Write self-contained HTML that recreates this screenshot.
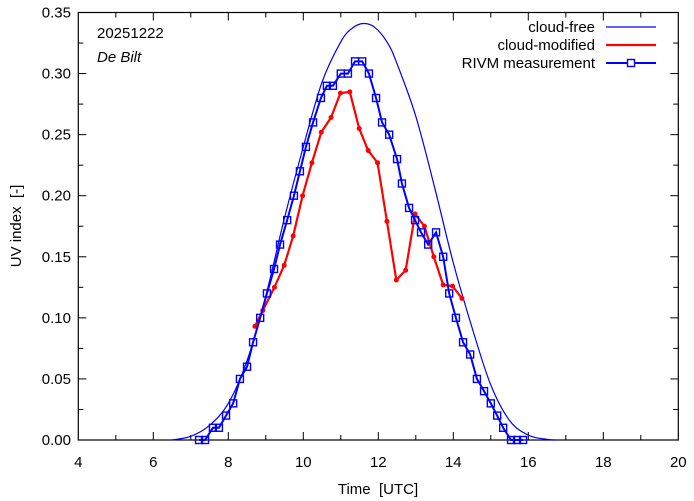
<!DOCTYPE html>
<html><head><meta charset="utf-8"><style>
html,body{margin:0;padding:0;background:#fff;}
svg{display:block;font-family:"Liberation Sans",sans-serif;}
</style></head><body>
<svg id="chart" width="694" height="501" viewBox="0 0 694 501"></svg>
<script>
const xTicks=[4,6,8,10,12,14,16,18,20];
const yTicks=[0,0.05,0.10,0.15,0.20,0.25,0.30,0.35];
const yTickLabels=["0.00","0.05","0.10","0.15","0.20","0.25","0.30","0.35"];
const clearTimes=[6.5,7,7.5,8,8.5,9,9.5,10,10.5,11,11.3,11.6,11.9,12.25,12.5,13,13.5,14,14.5,15,15.5,16,16.5,16.75];
const clearValues=[0,0.003,0.012,0.030,0.065,0.118,0.182,0.240,0.293,0.326,0.337,0.341,0.338,0.325,0.308,0.265,0.207,0.145,0.092,0.045,0.016,0.004,0.0005,0];
const cloudTimes=[8.71,8.92,9.23,9.49,9.73,9.98,10.23,10.48,10.74,10.99,11.24,11.49,11.73,11.98,12.23,12.48,12.73,12.98,13.23,13.48,13.73,13.98,14.23];
const cloudValues=[0.093,0.106,0.125,0.143,0.167,0.200,0.227,0.252,0.264,0.284,0.285,0.255,0.237,0.227,0.179,0.131,0.139,0.185,0.175,0.150,0.127,0.126,0.116];
const measTimes=[7.22,7.38,7.59,7.75,7.94,8.13,8.31,8.50,8.66,8.85,9.03,9.22,9.38,9.57,9.75,9.91,10.07,10.26,10.47,10.63,10.79,11.0,11.19,11.38,11.57,11.75,11.94,12.10,12.29,12.50,12.63,12.82,12.98,13.14,13.33,13.54,13.73,13.89,14.07,14.26,14.45,14.63,14.82,15.0,15.17,15.33,15.54,15.70,15.86];
const measValues=[0,0,0.01,0.01,0.02,0.03,0.05,0.06,0.08,0.10,0.12,0.14,0.16,0.18,0.20,0.22,0.24,0.26,0.28,0.29,0.29,0.30,0.30,0.31,0.31,0.30,0.28,0.26,0.25,0.23,0.21,0.19,0.18,0.17,0.16,0.17,0.15,0.12,0.10,0.08,0.07,0.05,0.04,0.03,0.02,0.01,0,0,0];

const L=78.3,R=678.3,T=12.5,B=440;
const xs=v=>L+(v-4)/16*(R-L);
const ys=v=>B-v/0.35*(B-T);
const svg=document.getElementById('chart');
const NS='http://www.w3.org/2000/svg';
function mk(tag,attrs,parent){const e=document.createElementNS(NS,tag);for(const k in attrs)e.setAttribute(k,attrs[k]);(parent||svg).appendChild(e);return e;}

xTicks.forEach((t,i)=>{
  const x=xs(t);
  const lab=mk('text',{x:x,y:467,'text-anchor':'middle','font-size':15,fill:'#000'});
  lab.textContent=t;
  
  
});
for(let h=5;h<20;h++){
  const x=xs(h), len=(h%2===0)?8:5;
  mk('line',{x1:x,y1:B,x2:x,y2:B-len,stroke:'#000','stroke-width':1});
  mk('line',{x1:x,y1:T,x2:x,y2:T+len,stroke:'#000','stroke-width':1});
}
yTicks.forEach((t,i)=>{
  const y=ys(t);
  const lab=mk('text',{x:71,y:y+5,'text-anchor':'end','font-size':15,fill:'#000'});
  lab.textContent=yTickLabels[i];
  
  
  mk('line',{x1:L,y1:y,x2:L+8,y2:y,stroke:'#000'});
  mk('line',{x1:R,y1:y,x2:R-8,y2:y,stroke:'#000'});
  if(i<yTicks.length-1){const ym=ys(t+0.025);
    mk('line',{x1:L,y1:ym,x2:L+5,y2:ym,stroke:'#000'});
    mk('line',{x1:R,y1:ym,x2:R-5,y2:ym,stroke:'#000'});}
});
const frame=mk('rect',{x:L,y:T,width:R-L,height:B-T,fill:'none',stroke:'#000','stroke-width':1.2});



const cp=clearTimes.map((t,i)=>[xs(t),ys(clearValues[i])]);
let d='M'+cp[0][0]+','+cp[0][1];
for(let i=0;i<cp.length-1;i++){
  const p0=cp[Math.max(0,i-1)],p1=cp[i],p2=cp[i+1],p3=cp[Math.min(cp.length-1,i+2)];
  const c1=[p1[0]+(p2[0]-p0[0])/6,p1[1]+(p2[1]-p0[1])/6];
  const c2=[p2[0]-(p3[0]-p1[0])/6,p2[1]-(p3[1]-p1[1])/6];
  d+=' C'+c1[0]+','+c1[1]+' '+c2[0]+','+c2[1]+' '+p2[0]+','+p2[1];
}
const clear=mk('path',{d:d,fill:'none',stroke:'#0000ff','stroke-width':1.2});



const cm=mk('polyline',{points:cloudTimes.map((t,i)=>xs(t)+','+ys(cloudValues[i])).join(' '),fill:'none',stroke:'#ff0000','stroke-width':2.2});


cloudTimes.forEach((t,i)=>{
  const c=mk('circle',{cx:xs(t),cy:ys(cloudValues[i]),r:2.5,fill:'#ff0000'});
  
  
});

const ml=mk('polyline',{points:measTimes.map((t,i)=>xs(t)+','+ys(measValues[i])).join(' '),fill:'none',stroke:'#0000ff','stroke-width':2});


measTimes.forEach((t,i)=>{
  const s=mk('rect',{x:xs(t)-3.5,y:ys(measValues[i])-3.5,width:7,height:7,fill:'none',stroke:'#0000ff','stroke-width':1.4});
  
  
});
</script>
<script>
(function(){
const NS='http://www.w3.org/2000/svg';
const svg=document.getElementById('chart');
function t(x,y,s,a,extra,name){const e=document.createElementNS(NS,'text');e.setAttribute('x',x);e.setAttribute('y',y);e.setAttribute('font-size',15);e.setAttribute('text-anchor',a);for(const k in extra)e.setAttribute(k,extra[k]);e.textContent=s;svg.appendChild(e);


return e;}
t(97,38,'20251222','start',{},'date-label');
t(97,62,'De Bilt','start',{'font-style':'italic'},'location-label');
t(378,494,'Time\u00A0 [UTC]','middle',{},'x-axis-title');
t(0,0,'UV index\u00A0 [-]','middle',{transform:'translate(21,226) rotate(-90)'},'y-axis-title');
t(595,32,'cloud-free','end',{},'legend-label-cloud-free');
t(595,50,'cloud-modified','end',{},'legend-label-cloud-modified');
t(595,68,'RIVM measurement','end',{},'legend-label-rivm');
function ln(y,c,w,name){const e=document.createElementNS(NS,'line');e.setAttribute('x1',606);e.setAttribute('x2',656);e.setAttribute('y1',y);e.setAttribute('y2',y);e.setAttribute('stroke',c);e.setAttribute('stroke-width',w);svg.appendChild(e);

}
ln(27,'#0000ff',1.2,'legend-swatch-cloud-free');
ln(45,'#ff0000',2.2,'legend-swatch-cloud-modified');
ln(63,'#0000ff',2,'legend-swatch-rivm');
const r=document.createElementNS(NS,'rect');r.setAttribute('x',627.5);r.setAttribute('y',59.5);r.setAttribute('width',7);r.setAttribute('height',7);r.setAttribute('fill','#fff');r.setAttribute('stroke','#0000ff');r.setAttribute('stroke-width',1.4);svg.appendChild(r);


})();
</script>
</body></html>
